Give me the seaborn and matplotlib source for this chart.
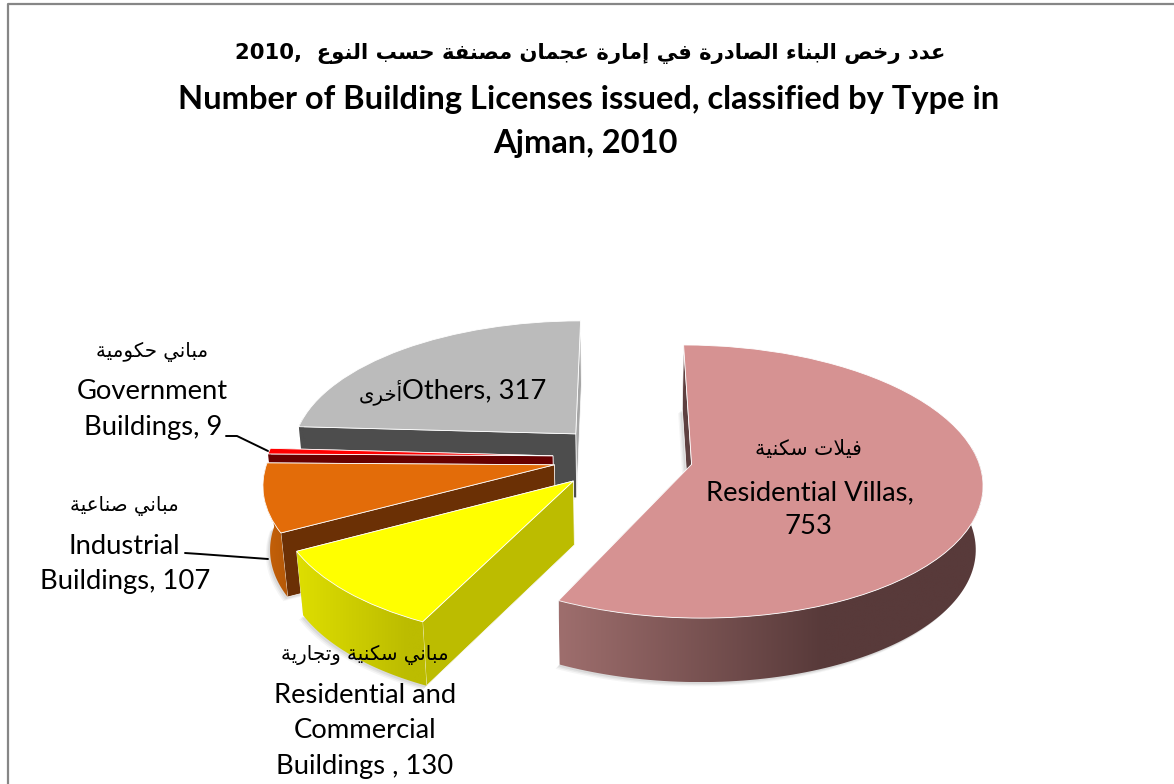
import numpy as np
import matplotlib
matplotlib.use("Agg")
import matplotlib.pyplot as plt
import seaborn as sns
from matplotlib.patches import Polygon
from matplotlib.transforms import Transform

# slices in drawing order of the pie (clockwise from 12 o'clock)
names = ["Residential Villas", "Residential and Commercial Buildings", "Industrial Buildings",
         "Government Buildings", "Others"]
values = [753, 130, 107, 9, 317]
top_colors = ["#D69292", "#FFFF00", "#E36C09", "#FF0000", "#BBBBBB"]
face_colors = ["#5E4040", "#BCBC00", "#6B3005", "#660000", "#4D4D4D"]
strip_colors = ["#5E4040", "#BCBC00", "#6B3005", "#660000", "#A6A6A6"]
rim_left = ["#9E6E6D", "#DEDE00", "#C86208", "#660000", "#4D4D4D"]
rim_right = ["#583A3A", "#BCBC00", "#B85A08", "#660000", "#4D4D4D"]

title_ar = "عدد رخص البناء الصادرة في إمارة عجمان مصنفة حسب النوع"
title_en = "Number of Building Licenses issued, classified by Type in\nAjman, 2010"

# perspective of the pie plane on the picture, in pixels
X0, HORIZON, SCALE_X, SCALE_Y, TILT = 620.0, -603.0, 288.0, 1068.0, 0.126
DEPTH, SHRINK = 64.0, 0.98

AR_BASE = {"ء": 0xFE80, "أ": 0xFE83, "إ": 0xFE87, "ا": 0xFE8D, "ب": 0xFE8F, "ة": 0xFE93, "ت": 0xFE95,
           "ج": 0xFE9D, "ح": 0xFEA1, "خ": 0xFEA5, "د": 0xFEA9, "ر": 0xFEAD, "س": 0xFEB1, "ص": 0xFEB9,
           "ع": 0xFEC9, "ف": 0xFED1, "ك": 0xFED9, "ل": 0xFEDD, "م": 0xFEE1, "ن": 0xFEE5, "و": 0xFEED,
           "ى": 0xFEEF, "ي": 0xFEF1}
NO_LEFT_JOIN = set("ءأإادةرو ى")


def ar(text):
    # matplotlib does no Arabic shaping, so pick the joined forms and reverse by hand
    text = text.replace("لا", "\uFEFB")
    out = []
    for i, ch in enumerate(text):
        prev = text[i - 1] if i else " "
        nxt = text[i + 1] if i + 1 < len(text) else " "
        joins_prev = prev in AR_BASE and prev not in NO_LEFT_JOIN and prev != "\uFEFB"
        joins_next = (nxt in AR_BASE or nxt == "\uFEFB") and ch not in NO_LEFT_JOIN
        if ch == "\uFEFB":
            out.append("\uFEFC" if joins_prev else ch)
        elif ch not in AR_BASE:
            out.append(ch)
        elif joins_prev and joins_next:
            out.append(chr(AR_BASE[ch] + 3))
        elif joins_next:
            out.append(chr(AR_BASE[ch] + 2))
        elif joins_prev:
            out.append(chr(AR_BASE[ch] + 1))
        else:
            out.append(chr(AR_BASE[ch]))
    return "".join(reversed(out))


def project(u, v, depth=0.0):
    w = 1 + TILT * np.asarray(v)
    x = X0 + SCALE_X * np.asarray(u) / w
    y = HORIZON + SCALE_Y / w
    if depth:
        x = X0 + (x - X0) * SHRINK
        y = y + depth
    return x, y


class PlaneToPixels(Transform):
    input_dims = 2
    output_dims = 2

    def transform_non_affine(self, values):
        x, y = project(values[:, 0], values[:, 1])
        return np.column_stack([x, y])


def arc_points(wedge, n=160):
    t = np.radians(np.linspace(wedge.theta1, wedge.theta2, n))
    return wedge.center[0] + wedge.r * np.cos(t), wedge.center[1] + wedge.r * np.sin(t), t


def draw_solid(ax, wedge, i, z):
    u, v, t = arc_points(wedge)
    cu, cv = wedge.center
    # soft shadow under the whole solid
    xb, yb = project(np.r_[cu, u], np.r_[cv, v], DEPTH)
    for grow, alpha in [(7, 0.06), (5, 0.08), (3, 0.10)]:
        ax.add_patch(Polygon(np.column_stack([xb - grow * 0.6, yb + grow * 0.6]), fc="#555555", ec="none",
                             alpha=alpha, zorder=z))
    # the two cut faces; theta2 is the one that faces the viewer, so it goes last
    xt, yt = project(cu, cv)
    xt2, yt2 = project(cu, cv, DEPTH)
    for idx, col in [(0, strip_colors[i]), (-1, face_colors[i])]:
        xa, ya = project(u[idx], v[idx])
        xc, yc = project(u[idx], v[idx], DEPTH)
        ax.add_patch(Polygon([(xt, yt), (xa, ya), (xc, yc), (xt2, yt2)], fc=col, ec="white", lw=0.5,
                             zorder=z + 0.1))
    # outer rim, only the part turned to the viewer, shaded left to right
    front = np.sin(t) < 0.13
    if not front.any():
        return
    x1, y1 = project(u[front], v[front])
    x2, y2 = project(u[front], v[front], DEPTH)
    rim = Polygon(np.column_stack([np.r_[x1, x2[::-1]], np.r_[y1, y2[::-1]]]), fc="none", ec="none",
                  zorder=z + 0.2)
    ax.add_patch(rim)
    lo, hi = min(x1.min(), x2.min()), max(x1.max(), x2.max())
    stop = lo + (hi - lo) * (0.62 if i == 0 else 0.85)
    pal = np.array(sns.blend_palette([rim_left[i], rim_right[i]], 256))
    frac = np.clip((np.linspace(lo, hi, 256) - lo) / (stop - lo), 0, 1)
    img = pal[(frac * 255).astype(int)][None, :, :]
    im = ax.imshow(img, extent=[lo, hi, max(y2.max(), y1.max()), min(y1.min(), y2.min())], aspect="auto",
                   zorder=z + 0.2, interpolation="bilinear")
    im.set_clip_path(rim)


sns.set_theme(style="white")
plt.rcParams["font.family"] = ["Lato", "DejaVu Sans"]

fig = plt.figure(figsize=(11.74, 7.84), dpi=100, facecolor="white")
ax = fig.add_axes([0, 0, 1, 1])

wedges, _ = ax.pie(values, startangle=90, counterclock=False, explode=[0.245] * len(values),
                   center=(0.01, 0.06), colors=sns.color_palette(top_colors),
                   wedgeprops={"edgecolor": "white", "linewidth": 0.6})
ax.set_aspect("auto")
ax.set_xlim(0, 1174)
ax.set_ylim(784, 0)

plane = PlaneToPixels() + ax.transData
# back to front: others, government, industrial, residential+commercial, villas
for z, i in enumerate([4, 3, 2, 1, 0]):
    base = 2 + z * 2
    draw_solid(ax, wedges[i], i, base)
    wedges[i].set_transform(plane)
    wedges[i].set_zorder(base + 1)

ax.set_xlim(0, 1174)
ax.set_ylim(784, 0)
ax.axis("off")

# chart area border: only the left and top sides show in the crop
ax.plot([8, 8, 1174], [784, 4, 4], color="#868686", lw=1.6, zorder=1)

# leader lines
ax.plot([226, 237, 268], [436, 436, 451], color="black", lw=1.4, zorder=20)
ax.plot([185, 200, 268], [553, 554, 559], color="black", lw=1.4, zorder=20)

LABEL = 19.7
AR_LABEL = 14.2
BLACK = "#000000"


def label(x, y, s, size=LABEL, **kw):
    ax.text(x, y, s, fontsize=size, ha=kw.pop("ha", "center"), va="baseline", color=BLACK, zorder=30, **kw)


label(590, 59, "2010,  " + ar(title_ar), size=15.2, fontweight="bold", family=["DejaVu Sans"])
label(589, 109, title_en.split("\n")[0], size=23.5, fontweight="bold")
label(585, 153, title_en.split("\n")[1], size=23.5, fontweight="bold")

label(152, 357, ar("مباني حكومية"), size=AR_LABEL, family=["DejaVu Sans"])
label(152, 399, "Government")
label(153, 435, "Buildings, 9")
label(124, 511, ar("مباني صناعية"), size=AR_LABEL, family=["DejaVu Sans"])
label(124, 554, "Industrial")
label(125, 589, "Buildings, 107")
label(808, 455, ar("فيلات سكنية"), size=AR_LABEL + 0.6, family=["DejaVu Sans"])
label(810, 500, "Residential Villas,")
label(808, 534, "753")
label(403, 400, ar("أخرى"), size=AR_LABEL, ha="right", family=["DejaVu Sans"])
label(402, 398, "Others, 317", ha="left")
label(365, 660, ar("مباني سكنية وتجارية"), size=AR_LABEL, family=["DejaVu Sans"])
label(365, 703, "Residential and")
label(365, 738, "Commercial")
label(365, 774, "Buildings , 130")

fig.savefig("out.png", dpi=100)
